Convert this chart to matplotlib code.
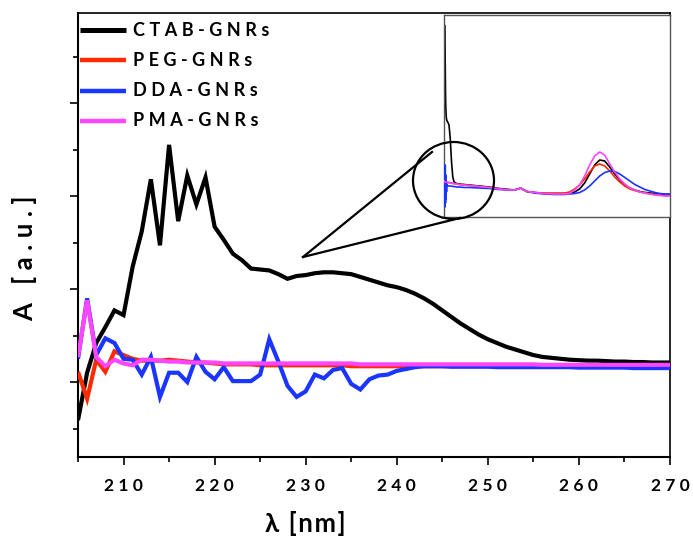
import matplotlib
matplotlib.use("Agg")
import matplotlib.pyplot as plt
from matplotlib.patches import Ellipse
from matplotlib.lines import Line2D
from matplotlib.ticker import MultipleLocator

# ---------------- data ----------------
wavelength = list(range(205, 271))

ctab = [-0.41, 0.10, 0.42, 0.59, 0.77, 0.72, 1.24, 1.62, 2.18, 1.47,
        2.55, 1.73, 2.22, 1.91, 2.20, 1.67, 1.53, 1.38, 1.31, 1.22,
        1.21, 1.20, 1.16, 1.11, 1.14, 1.15, 1.17, 1.18, 1.18, 1.17,
        1.16, 1.13, 1.10, 1.07, 1.04, 1.02, 0.99, 0.95, 0.90, 0.84,
        0.77, 0.70, 0.63, 0.57, 0.51, 0.46, 0.42, 0.38, 0.35, 0.32,
        0.29, 0.27, 0.26, 0.25, 0.24, 0.235, 0.23, 0.23, 0.225, 0.22,
        0.22, 0.215, 0.215, 0.21, 0.21, 0.21]

peg = [0.11, -0.18, 0.24, 0.11, 0.33, 0.29, 0.25, 0.23, 0.23, 0.23,
       0.24, 0.23, 0.22, 0.21, 0.21, 0.20, 0.19, 0.19, 0.19, 0.19,
       0.18, 0.18, 0.18, 0.18, 0.18, 0.18, 0.18, 0.18, 0.18, 0.18,
       0.17, 0.17, 0.17, 0.17, 0.17, 0.17, 0.17, 0.17, 0.17, 0.17,
       0.17, 0.17, 0.17, 0.17, 0.17, 0.17, 0.17, 0.17, 0.17, 0.17,
       0.17, 0.17, 0.17, 0.17, 0.17, 0.17, 0.17, 0.17, 0.17, 0.17,
       0.17, 0.17, 0.17, 0.17, 0.17, 0.17]

dda = [0.25, 0.90, 0.29, 0.47, 0.42, 0.25, 0.24, 0.08, 0.27, -0.16,
       0.10, 0.10, 0.00, 0.27, 0.11, 0.03, 0.16, 0.01, 0.01, 0.01,
       0.08, 0.46, 0.22, -0.04, -0.16, -0.10, 0.08, 0.04, 0.13, 0.15,
       -0.02, -0.08, 0.03, 0.07, 0.08, 0.12, 0.14, 0.16, 0.17, 0.17,
       0.17, 0.165, 0.165, 0.165, 0.165, 0.165, 0.16, 0.16, 0.16, 0.16,
       0.16, 0.16, 0.16, 0.16, 0.16, 0.155, 0.155, 0.155, 0.155, 0.155,
       0.155, 0.15, 0.15, 0.15, 0.15, 0.15]

pma = [0.27, 0.88, 0.27, 0.17, 0.24, 0.20, 0.18, 0.24, 0.24, 0.23,
       0.22, 0.22, 0.21, 0.21, 0.21, 0.21, 0.20, 0.20, 0.20, 0.20,
       0.20, 0.20, 0.20, 0.20, 0.20, 0.20, 0.20, 0.20, 0.20, 0.20,
       0.20, 0.19, 0.19, 0.19, 0.19, 0.19, 0.19, 0.19, 0.19, 0.19,
       0.19, 0.19, 0.19, 0.19, 0.19, 0.19, 0.19, 0.19, 0.19, 0.19,
       0.19, 0.185, 0.185, 0.185, 0.185, 0.185, 0.185, 0.185, 0.185, 0.185,
       0.185, 0.185, 0.185, 0.185, 0.185, 0.185]

# full-range spectra shown in the inset
inset_wl = [200, 201, 202, 203, 204, 205, 206, 207, 208, 209, 210, 211, 212,
            215, 220, 225, 230, 235, 240,
            250, 260, 280, 300, 340, 380, 420, 460, 480, 495, 505, 515, 530,
            560, 600, 640, 680,
            700, 720, 740, 760, 780, 800, 820, 840, 860, 880, 900, 920, 940,
            960, 980, 1000, 1020, 1040, 1060, 1080, 1100]

inset_ctab = [120, 175, 192, 185, 170, 150, 125, 110, 105, 100, 98, 97, 96,
              95, 92, 78, 55, 40, 35,
              33.5, 33, 32.5, 32, 31, 30, 28.5, 27.5, 27, 28, 29, 27.5, 25.5,
              24.5, 23.5, 23, 23,
              23.5, 25, 28, 34, 43, 52, 57, 56, 50, 43, 37, 32, 29,
              27, 25.5, 24.5, 24, 23.5, 23, 22.5, 22.5]

inset_peg = [36, 35, 35, 35, 35, 35, 35, 35, 35, 35, 35, 35, 35,
             34.5, 34.5, 34, 34, 33.5, 33.5,
             33, 32.5, 32, 31.5, 30.5, 29.5, 28, 27, 27, 28, 29, 27.5, 25.5,
             24.5, 24, 24, 24,
             25, 28, 32, 38, 45, 51, 53, 51, 46, 40, 35, 31, 28,
             26.5, 25, 24, 23, 22.5, 22, 21.5, 21.5]

inset_dda = [30, 50, 12, 48, 10, 52, 14, 42, 18, 36, 25, 33, 31,
             31, 31, 31, 31, 30.5, 30.5,
             30, 30, 29.5, 29.5, 29, 28.5, 27.5, 27, 27, 28, 29, 27.5, 25.5,
             24, 23, 22.5, 22.5,
             23, 23.5, 24.5, 27, 31, 36, 41, 44.5, 46, 45.5, 43, 39.5, 36,
             32.5, 30, 27.5, 26, 24.5, 23.5, 23, 23]

inset_pma = [36, 35, 35, 35, 35, 35, 35, 35, 35, 35, 35, 35, 35,
             34.5, 34.5, 34, 34, 33.5, 33.5,
             33, 32.5, 32, 31.5, 30.5, 29.5, 28, 27, 27, 28, 29, 27.5, 25.5,
             24.5, 23.5, 23, 23,
             23.5, 27, 32, 41, 52, 61, 65, 62, 53, 45, 38, 33, 29,
             27, 25, 24, 23, 22, 21.5, 21, 21]

labels = ["CTAB-GNRs", "PEG-GNRs", "DDA-GNRs", "PMA-GNRs"]
colors = ["#000000", "#ff2a00", "#1a35ff", "#ff45ff"]
xticks = [210, 220, 230, 240, 250, 260, 270]

# ---------------- figure ----------------
W, H = 693, 539
FONT = ["Lato", "DejaVu Sans"]
fig = plt.figure(figsize=(W / 100, H / 100), dpi=100)


def fx(px):
    return px / W


def fy(py):
    return 1 - py / H


def spaced(s, sep="\u2005"):
    return sep.join(s)


ax = fig.add_axes([fx(78), fy(457), fx(670) - fx(78), fy(13) - fy(457)])

series = [ctab, peg, dda, pma]
for vals, col, z in zip(series, colors, [2, 3, 4, 5]):
    ax.plot(wavelength, vals, color=col, lw=3.0, zorder=z,
            solid_joinstyle="miter", solid_capstyle="butt")

ax.set_xlim(205, 270)
ax.set_ylim(-0.806, 3.968)
ax.set_xticks(xticks)
ax.set_xticklabels([spaced(str(v)) for v in xticks], family=FONT,
                   fontweight="bold", fontsize=12.5)
ax.xaxis.set_minor_locator(MultipleLocator(5))
ax.yaxis.set_major_locator(MultipleLocator(1))
ax.yaxis.set_minor_locator(MultipleLocator(0.5))
ax.set_yticklabels([])
ax.tick_params(which="major", direction="out", length=6, width=1.2,
               top=False, right=False, pad=9)
ax.tick_params(which="minor", direction="out", length=3.5, width=1.2,
               top=False, right=False)
for side in ["left", "bottom"]:
    ax.spines[side].set_linewidth(1.5)
for side in ["top", "right"]:
    ax.spines[side].set_linewidth(1.2)

# legend drawn as short line samples with letter-spaced labels
for i, (lab, col) in enumerate(zip(labels, colors)):
    ypx = 30 + i * 30.3
    fig.add_artist(Line2D([fx(80), fx(126)], [fy(ypx), fy(ypx)],
                          color=col, lw=3.6 if i == 0 else 3.2,
                          solid_capstyle="butt",
                          transform=fig.transFigure, zorder=10))
    fig.text(fx(133), fy(ypx), spaced(lab), family=FONT,
             fontweight="bold", fontsize=13, va="center", ha="left")

fig.text(fx(25), fy(258), spaced("A [a.u.]"), rotation=90, family=FONT,
         fontweight="bold", fontsize=18.5, ha="center", va="center")
fig.text(fx(305), fy(524), spaced("λ [nm]", "\u200a"), family=FONT,
         fontweight="bold", fontsize=18.5, ha="center", va="center")

# inset with the full spectra
axi = fig.add_axes([fx(444), fy(217), fx(670) - fx(444), fy(15) - fy(217)])
inset_series = [inset_ctab, inset_peg, inset_dda, inset_pma]
for vals, col, z in zip(inset_series, colors, [2, 3, 4, 5]):
    axi.plot(inset_wl, vals, color=col, lw=1.2, zorder=z)
axi.set_xlim(200, 1100)
axi.set_ylim(0, 202)
axi.set_xticks([])
axi.set_yticks([])
for sp in axi.spines.values():
    sp.set_color("#555555")
    sp.set_linewidth(1.0)

# zoom callout: ellipse around the UV region and two leader lines
fig.add_artist(Ellipse((fx(453.5), fy(180.5)), fx(81), 77 / H,
                       fill=False, edgecolor="black", lw=1.6,
                       transform=fig.transFigure, zorder=20))
fig.add_artist(Line2D([fx(303), fx(432)], [fy(257), fy(152)], color="black",
                      lw=1.6, transform=fig.transFigure, zorder=20))
fig.add_artist(Line2D([fx(303), fx(460)], [fy(257), fy(218)], color="black",
                      lw=1.6, transform=fig.transFigure, zorder=20))

fig.savefig("out.png", dpi=100)
